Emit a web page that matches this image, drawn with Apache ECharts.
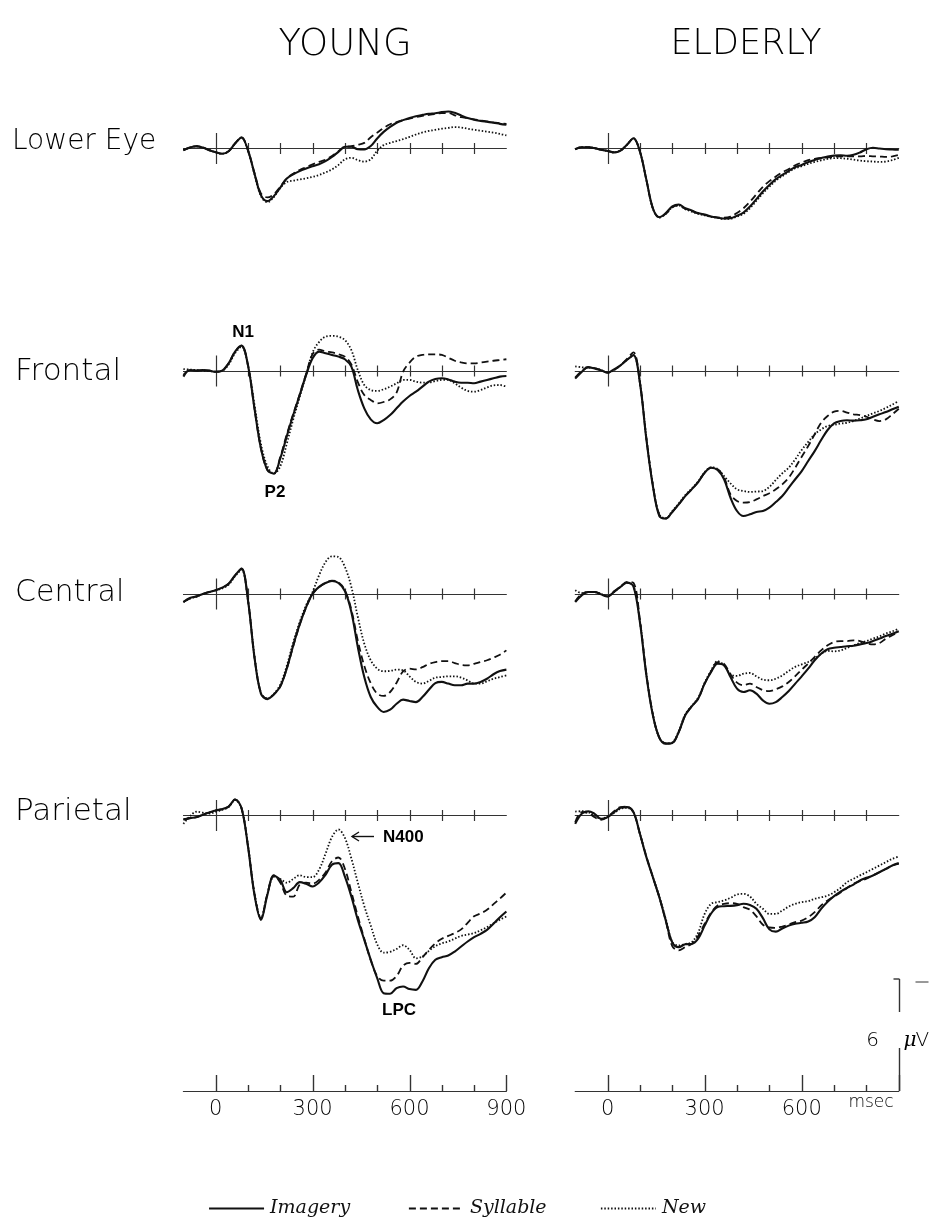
<!DOCTYPE html>
<html>
<head>
<meta charset="utf-8">
<title>ERP waveforms: young vs elderly</title>
<script src="https://cdn.jsdelivr.net/npm/echarts@6/dist/echarts.min.js"></script>
<style>
  html, body { margin: 0; padding: 0; background: #ffffff; }
  #chart { width: 931px; height: 1220px; }
</style>
</head>
<body>
<div id="chart"></div>
<script>
// ---- Sampling times (ms after stimulus onset) ----
const timesMs = [-100, -80, -60, -40, -20, 0, 20, 40, 60, 80, 100, 120, 140, 160, 180, 200, 220, 240, 260, 280,
  300, 320, 340, 360, 380, 400, 420, 440, 460, 480, 500, 520, 540, 560, 580, 600, 620, 640, 660, 680,
  700, 720, 740, 760, 780, 800, 820, 840, 860, 880, 900];

// ---- Amplitudes in microvolts (negative plotted upward) ----
const youngEyeImagery = [0.09, -0.05, -0.12, -0.05, 0.09, 0.2, 0.28, 0.15, -0.27, -0.59,
  0.1, 1.34, 2.5, 2.82, 2.55, 2.09, 1.61, 1.38, 1.21, 1.07,
  0.95, 0.84, 0.68, 0.45, 0.18, -0.09, -0.09, 0.04, 0.05, -0.13,
  -0.54, -0.89, -1.16, -1.38, -1.52, -1.64, -1.73, -1.8, -1.86, -1.89,
  -1.95, -1.98, -1.91, -1.77, -1.63, -1.54, -1.48, -1.43, -1.38, -1.32, -1.27];
const youngEyeSyllable = [0.09, -0.05, -0.12, -0.05, 0.09, 0.2, 0.28, 0.15, -0.27, -0.59,
  0.1, 1.3, 2.4, 2.62, 2.45, 2.05, 1.6, 1.35, 1.15, 1.0,
  0.85, 0.72, 0.6, 0.4, 0.15, -0.08, -0.12, -0.2, -0.3, -0.6,
  -0.85, -1.1, -1.3, -1.42, -1.52, -1.6, -1.68, -1.75, -1.8, -1.85,
  -1.9, -1.9, -1.78, -1.68, -1.62, -1.56, -1.5, -1.45, -1.4, -1.36, -1.32];
const youngEyeNew = [0.09, -0.05, -0.12, -0.05, 0.09, 0.2, 0.28, 0.15, -0.27, -0.59,
  0.12, 1.38, 2.55, 2.88, 2.6, 2.1, 1.8, 1.72, 1.66, 1.6,
  1.52, 1.42, 1.28, 1.12, 0.88, 0.58, 0.5, 0.62, 0.7, 0.58,
  0.12, -0.18, -0.3, -0.4, -0.5, -0.62, -0.75, -0.86, -0.94, -1.0,
  -1.06, -1.1, -1.15, -1.12, -1.06, -1.0, -0.95, -0.9, -0.85, -0.78, -0.7];

const elderlyEyeImagery = [0.04, -0.07, -0.07, -0.02, 0.07, 0.13, 0.21, 0.11, -0.2, -0.55,
  0.16, 1.68, 3.2, 3.68, 3.46, 3.1, 3.0, 3.2, 3.32, 3.46,
  3.54, 3.64, 3.7, 3.75, 3.73, 3.6, 3.43, 3.11, 2.71, 2.3,
  1.95, 1.64, 1.41, 1.2, 1.0, 0.88, 0.73, 0.61, 0.52, 0.43,
  0.38, 0.36, 0.39, 0.34, 0.21, 0.04, -0.04, 0.0, 0.04, 0.05, 0.07];
const elderlyEyeSyllable = [0.04, -0.07, -0.07, -0.02, 0.07, 0.13, 0.21, 0.11, -0.2, -0.55,
  0.16, 1.68, 3.2, 3.68, 3.5, 3.15, 3.05, 3.22, 3.35, 3.48,
  3.56, 3.64, 3.7, 3.7, 3.65, 3.45, 3.2, 2.85, 2.45, 2.05,
  1.75, 1.5, 1.28, 1.1, 0.9, 0.75, 0.62, 0.55, 0.5, 0.48,
  0.45, 0.42, 0.42, 0.42, 0.42, 0.4, 0.42, 0.43, 0.45, 0.42, 0.35];
const elderlyEyeNew = [0.04, -0.07, -0.07, -0.02, 0.07, 0.13, 0.21, 0.11, -0.2, -0.55,
  0.16, 1.68, 3.22, 3.7, 3.5, 3.15, 3.05, 3.25, 3.38, 3.5,
  3.58, 3.66, 3.72, 3.77, 3.76, 3.65, 3.5, 3.2, 2.8, 2.4,
  2.05, 1.72, 1.48, 1.26, 1.06, 0.95, 0.82, 0.72, 0.63, 0.56,
  0.52, 0.52, 0.55, 0.6, 0.65, 0.68, 0.7, 0.72, 0.7, 0.62, 0.5];

const youngFrontalImagery = [0.3, -0.05, -0.02, -0.05, -0.02, 0.04, -0.02, -0.41, -1.04, -1.36,
  -0.3, 2.0, 4.14, 5.3, 5.5, 4.68, 3.5, 2.36, 1.29, 0.21,
  -0.68, -1.04, -0.95, -0.86, -0.77, -0.63, -0.23, 1.02, 2.0, 2.59,
  2.8, 2.63, 2.36, 2.0, 1.64, 1.34, 1.11, 0.84, 0.57, 0.43,
  0.39, 0.45, 0.57, 0.63, 0.63, 0.66, 0.57, 0.48, 0.39, 0.3, 0.27];
const youngFrontalSyllable = [0.2, -0.05, -0.02, -0.05, -0.02, 0.04, -0.02, -0.41, -1.04, -1.36,
  -0.3, 2.0, 4.14, 5.3, 5.5, 4.6, 3.4, 2.3, 1.25, 0.15,
  -0.9, -1.15, -1.05, -1.0, -0.9, -0.77, -0.35, 0.6, 1.29, 1.55,
  1.73, 1.66, 1.52, 1.16, 0.04, -0.45, -0.77, -0.86, -0.89, -0.89,
  -0.86, -0.71, -0.55, -0.46, -0.41, -0.41, -0.45, -0.5, -0.55, -0.59, -0.63];
const youngFrontalNew = [-0.1, -0.08, -0.05, -0.02, 0.0, 0.04, 0.0, -0.35, -0.95, -1.3,
  -0.3, 1.8, 3.9, 5.1, 5.5, 5.1, 3.9, 2.6, 1.4, 0.2,
  -1.0, -1.55, -1.84, -1.88, -1.84, -1.66, -1.12, -0.05, 0.75, 1.02,
  1.07, 0.98, 0.84, 0.66, 0.48, 0.48, 0.57, 0.62, 0.62, 0.54,
  0.48, 0.48, 0.66, 0.89, 1.07, 1.11, 1.02, 0.88, 0.77, 0.75, 0.84];

const elderlyFrontalImagery = [0.41, 0.05, -0.21, -0.13, -0.04, 0.09, -0.09, -0.3, -0.59, -0.85,
  0.63, 3.66, 6.16, 7.77, 7.9, 7.55, 7.14, 6.7, 6.34, 5.95,
  5.45, 5.18, 5.3, 5.8, 6.79, 7.5, 7.77, 7.68, 7.55, 7.5,
  7.32, 7.02, 6.7, 6.25, 5.8, 5.36, 4.82, 4.29, 3.7, 3.16,
  2.8, 2.68, 2.64, 2.66, 2.64, 2.59, 2.45, 2.32, 2.2, 2.05, 1.91];
const elderlyFrontalSyllable = [0.35, 0.0, -0.2, -0.15, -0.05, 0.09, -0.05, -0.3, -0.65, -1.0,
  0.6, 3.6, 6.1, 7.7, 7.9, 7.55, 7.14, 6.7, 6.34, 5.95,
  5.45, 5.18, 5.25, 5.7, 6.61, 6.96, 7.05, 7.02, 6.88, 6.7,
  6.55, 6.34, 6.07, 5.71, 5.18, 4.59, 4.02, 3.39, 2.77, 2.41,
  2.18, 2.14, 2.23, 2.32, 2.36, 2.45, 2.59, 2.68, 2.59, 2.32, 2.02];
const elderlyFrontalNew = [-0.25, -0.2, -0.18, -0.15, -0.05, 0.09, -0.05, -0.3, -0.6, -0.85,
  0.63, 3.6, 6.1, 7.7, 7.9, 7.5, 7.1, 6.65, 6.3, 5.92,
  5.42, 5.16, 5.25, 5.63, 6.02, 6.34, 6.43, 6.48, 6.46, 6.43,
  6.21, 5.84, 5.48, 5.18, 4.73, 4.23, 3.8, 3.39, 3.13, 2.95,
  2.88, 2.82, 2.77, 2.68, 2.55, 2.41, 2.27, 2.14, 1.98, 1.8, 1.61];

const youngCentralImagery = [0.43, 0.21, 0.13, 0.0, -0.11, -0.2, -0.34, -0.55, -1.0, -1.36,
  0.34, 3.39, 5.34, 5.63, 5.38, 4.95, 4.0, 2.75, 1.63, 0.7,
  -0.02, -0.38, -0.59, -0.7, -0.59, -0.16, 0.96, 2.84, 4.45, 5.52,
  6.05, 6.32, 6.2, 5.88, 5.66, 5.73, 5.79, 5.52, 5.13, 4.77,
  4.71, 4.8, 4.89, 4.89, 4.8, 4.8, 4.71, 4.54, 4.3, 4.13, 4.05];
const youngCentralSyllable = [0.43, 0.25, 0.13, 0.0, -0.11, -0.2, -0.34, -0.55, -1.0, -1.36,
  0.34, 3.39, 5.3, 5.6, 5.38, 4.95, 4.0, 2.8, 1.65, 0.72,
  0.0, -0.36, -0.6, -0.72, -0.62, -0.2, 0.85, 2.5, 3.85, 4.78,
  5.34, 5.46, 5.25, 4.75, 4.15, 4.0, 4.04, 3.92, 3.75, 3.65,
  3.6, 3.6, 3.7, 3.8, 3.82, 3.74, 3.64, 3.55, 3.41, 3.25, 3.02];
const youngCentralNew = [0.43, 0.25, 0.15, 0.0, -0.1, -0.2, -0.3, -0.5, -0.95, -1.3,
  0.34, 3.3, 5.3, 5.6, 5.35, 4.85, 3.85, 2.6, 1.5, 0.6,
  -0.11, -1.0, -1.71, -2.02, -1.98, -1.45, -0.38, 1.23, 2.66, 3.55,
  4.0, 4.14, 4.12, 4.05, 4.09, 4.41, 4.71, 4.8, 4.66, 4.48,
  4.45, 4.41, 4.41, 4.48, 4.63, 4.8, 4.8, 4.68, 4.54, 4.45, 4.36];

const elderlyCentralImagery = [0.43, 0.07, -0.11, -0.11, 0.02, 0.13, -0.11, -0.38, -0.61, -0.41,
  1.5, 4.36, 6.5, 7.7, 8.02, 7.98, 7.39, 6.5, 6.02, 5.61,
  4.8, 4.18, 3.73, 3.82, 4.45, 5.07, 5.25, 5.16, 5.34, 5.7,
  5.88, 5.79, 5.52, 5.2, 4.8, 4.41, 4.0, 3.55, 3.2, 2.96,
  2.88, 2.84, 2.8, 2.77, 2.7, 2.63, 2.52, 2.39, 2.25, 2.13, 2.0];
const elderlyCentralSyllable = [0.4, 0.0, -0.1, -0.1, 0.0, 0.13, -0.15, -0.4, -0.65, -0.6,
  1.4, 4.3, 6.45, 7.7, 8.0, 7.98, 7.39, 6.5, 6.02, 5.61,
  4.8, 4.15, 3.65, 3.75, 4.3, 4.75, 4.89, 4.8, 4.98, 5.15,
  5.2, 5.1, 4.95, 4.71, 4.4, 4.05, 3.73, 3.37, 3.02, 2.75,
  2.57, 2.52, 2.52, 2.48, 2.52, 2.63, 2.7, 2.63, 2.39, 2.21, 2.04];
const elderlyCentralNew = [-0.2, -0.05, -0.1, -0.1, 0.0, 0.13, -0.1, -0.38, -0.6, -0.45,
  1.45, 4.3, 6.45, 7.7, 8.0, 7.95, 7.35, 6.45, 6.0, 5.55,
  4.75, 4.1, 3.6, 3.82, 4.3, 4.39, 4.27, 4.23, 4.41, 4.59,
  4.62, 4.54, 4.36, 4.12, 3.9, 3.77, 3.64, 3.46, 3.2, 3.05,
  3.07, 3.02, 2.89, 2.75, 2.63, 2.52, 2.39, 2.27, 2.12, 2.0, 1.86];

const youngParietalImagery = [0.23, 0.14, 0.09, -0.04, -0.16, -0.27, -0.34, -0.48, -0.86, -0.39,
  1.66, 4.25, 5.59, 4.25, 3.23, 3.45, 4.11, 3.89, 3.57, 3.66,
  3.8, 3.59, 3.18, 2.64, 2.55, 3.27, 4.34, 5.59, 6.66, 7.73,
  8.71, 9.52, 9.55, 9.25, 9.16, 9.3, 9.34, 8.89, 8.18, 7.73,
  7.59, 7.5, 7.29, 7.02, 6.75, 6.52, 6.34, 6.13, 5.8, 5.45, 5.14];
const youngParietalSyllable = [0.2, 0.14, 0.09, -0.04, -0.16, -0.27, -0.34, -0.48, -0.86, -0.39,
  1.66, 4.2, 5.5, 4.2, 3.2, 3.6, 4.3, 4.35, 3.7, 3.6,
  3.65, 3.45, 3.05, 2.45, 2.25, 2.85, 4.1, 5.4, 6.6, 7.75,
  8.6, 8.85, 8.85, 8.6, 8.05, 7.9, 7.95, 7.6, 7.2, 6.85,
  6.6, 6.45, 6.3, 6.1, 5.75, 5.4, 5.25, 5.05, 4.75, 4.45, 4.13];
const youngParietalNew = [0.45, 0.05, -0.2, -0.15, -0.1, -0.2, -0.3, -0.45, -0.84, -0.39,
  1.6, 4.15, 5.5, 4.2, 3.3, 3.4, 3.6, 3.4, 3.2, 3.3,
  3.3, 2.9, 2.05, 1.15, 0.75, 1.2, 2.3, 3.6, 4.85, 5.9,
  6.9, 7.35, 7.3, 7.15, 6.95, 7.2, 7.65, 7.55, 7.25, 7.0,
  6.85, 6.75, 6.6, 6.45, 6.38, 6.3, 6.15, 5.98, 5.78, 5.58, 5.41];

const elderlyParietalImagery = [0.45, -0.09, -0.23, -0.09, 0.18, 0.09, -0.18, -0.41, -0.45, -0.18,
  0.98, 2.23, 3.3, 4.38, 5.63, 6.8, 7.05, 6.9, 6.88, 6.6,
  5.9, 5.25, 4.9, 4.86, 4.84, 4.8, 4.73, 4.8, 5.0, 5.5,
  6.1, 6.22, 6.05, 5.9, 5.8, 5.75, 5.68, 5.45, 5.0, 4.62,
  4.32, 4.08, 3.88, 3.7, 3.48, 3.34, 3.21, 3.04, 2.86, 2.68, 2.55];
const elderlyParietalSyllable = [0.36, -0.18, -0.13, 0.09, 0.23, 0.09, -0.23, -0.45, -0.48, -0.18,
  0.98, 2.2, 3.3, 4.38, 5.65, 7.0, 7.23, 7.05, 6.88, 6.45,
  5.8, 5.2, 4.82, 4.73, 4.7, 4.73, 4.91, 5.05, 5.4, 5.85,
  6.0, 6.02, 5.95, 5.84, 5.71, 5.63, 5.45, 5.18, 4.82, 4.55,
  4.34, 4.13, 3.88, 3.66, 3.52, 3.39, 3.21, 3.04, 2.86, 2.68, 2.59];
const elderlyParietalNew = [-0.21, -0.23, -0.18, 0.0, 0.18, 0.05, -0.13, -0.36, -0.41, -0.18,
  0.98, 2.23, 3.3, 4.35, 5.55, 6.78, 6.96, 6.88, 6.79, 6.27,
  5.27, 4.73, 4.64, 4.55, 4.41, 4.23, 4.2, 4.34, 4.73, 5.0,
  5.27, 5.27, 5.09, 4.88, 4.73, 4.64, 4.59, 4.46, 4.38, 4.29,
  4.11, 3.88, 3.57, 3.39, 3.21, 3.04, 2.86, 2.68, 2.5, 2.32, 2.2];

// ---- Labels ----
const groupTitles = ['YOUNG', 'ELDERLY'];
const siteNames = ['Lower Eye', 'Frontal', 'Central', 'Parietal'];
const conditionNames = ['Imagery', 'Syllable', 'New'];
const baselineTicksMs = [0, 100, 200, 300, 400, 500, 600, 700, 800];
const timeAxisTicksMs = [0, 100, 200, 300, 400, 500, 600, 700, 800, 900];
const majorTicksMs = [0, 300, 600, 900];
const youngTimeLabels = [0, 300, 600, 900];
const elderlyTimeLabels = [0, 300, 600];
const calibrationUv = 6;

// waveform table: [site][group] -> [Imagery, Syllable, New]
const waves = [
  [[youngEyeImagery, youngEyeSyllable, youngEyeNew], [elderlyEyeImagery, elderlyEyeSyllable, elderlyEyeNew]],
  [[youngFrontalImagery, youngFrontalSyllable, youngFrontalNew], [elderlyFrontalImagery, elderlyFrontalSyllable, elderlyFrontalNew]],
  [[youngCentralImagery, youngCentralSyllable, youngCentralNew], [elderlyCentralImagery, elderlyCentralSyllable, elderlyCentralNew]],
  [[youngParietalImagery, youngParietalSyllable, youngParietalNew], [elderlyParietalImagery, elderlyParietalSyllable, elderlyParietalNew]]
];

// ---- Layout (pixels) ----
const INK = '#111111';
const AXIS_INK = '#333333';
const colLeft = [183.4, 575.2];
const colWidth = [323, 323.6];
const rowBaseline = [148.5, 371, 594, 815.5];
const timeAxisBaseline = 1091;
const pxPerUv = 112 / calibrationUv;
const panelUvMin = -4, panelUvMax = 10;
const axisUvMin = -7, axisUvMax = 0;

const lineLook = {
  Imagery: { width: 2.1, type: 'solid' },
  Syllable: { width: 1.8, type: [7, 4] },
  New: { width: 1.8, type: [1.5, 1.9] }
};

const grid = [], xAxis = [], yAxis = [], series = [];

function addGrid(left, width, baseline, uvMin, uvMax) {
  grid.push({
    left: left, width: width,
    top: baseline + uvMin * pxPerUv,
    height: (uvMax - uvMin) * pxPerUv,
    containLabel: false
  });
  return grid.length - 1;
}

function baselineTickSeries(gi) {
  return {
    type: 'custom', xAxisIndex: gi, yAxisIndex: gi, silent: true, z: 1,
    data: baselineTicksMs.map(t => [t, 0]),
    encode: { x: 0, y: 1 },
    renderItem: function (params, api) {
      const t = api.value(0);
      const p = api.coord([t, 0]);
      const h = t === 0 ? 15.5 : 5.5;
      return {
        type: 'line',
        shape: { x1: Math.round(p[0]) + 0.5, y1: p[1] - h, x2: Math.round(p[0]) + 0.5, y2: p[1] + h },
        style: { stroke: AXIS_INK, lineWidth: 1.2 }
      };
    }
  };
}

// waveform panels
for (let r = 0; r < 4; r++) {
  for (let c = 0; c < 2; c++) {
    const gi = addGrid(colLeft[c], colWidth[c], rowBaseline[r], panelUvMin, panelUvMax);
    xAxis.push({
      gridIndex: gi, type: 'value', min: -100, max: 900, interval: 100,
      axisLine: { show: true, onZero: true, lineStyle: { color: AXIS_INK, width: 1 } },
      axisTick: { show: false }, axisLabel: { show: false }, splitLine: { show: false }
    });
    yAxis.push({ gridIndex: gi, type: 'value', min: panelUvMin, max: panelUvMax, inverse: true, show: false });
    series.push(baselineTickSeries(gi));
    conditionNames.forEach((name, k) => {
      const values = waves[r][c][k];
      series.push({
        type: 'line', name: name, xAxisIndex: gi, yAxisIndex: gi,
        data: timesMs.map((t, j) => [t, values[j]]),
        symbol: 'none', showSymbol: false, smooth: 0.35, silent: true,
        z: 3 - k,
        lineStyle: { color: INK, width: lineLook[name].width, type: lineLook[name].type, cap: 'butt' }
      });
    });
  }
}

// time axes under each column
for (let c = 0; c < 2; c++) {
  const gi = addGrid(colLeft[c], colWidth[c], timeAxisBaseline, axisUvMin, axisUvMax);
  const shown = c === 0 ? youngTimeLabels : elderlyTimeLabels;
  xAxis.push({
    gridIndex: gi, type: 'value', min: -100, max: 900, interval: 100,
    axisLine: { show: true, onZero: true, lineStyle: { color: AXIS_INK, width: 1.2 } },
    axisTick: { show: false }, splitLine: { show: false },
    axisLabel: {
      show: true, margin: 8, showMinLabel: true, showMaxLabel: true,
      fontFamily: 'DejaVu Sans', fontSize: 21, fontWeight: 200, color: '#000',
      formatter: v => (shown.indexOf(v) >= 0 ? String(v) : '')
    }
  });
  yAxis.push({ gridIndex: gi, type: 'value', min: axisUvMin, max: axisUvMax, inverse: true, show: false });
  series.push({
    type: 'custom', xAxisIndex: gi, yAxisIndex: gi, silent: true,
    data: timeAxisTicksMs.map(t => [t, 0]),
    encode: { x: 0, y: 1 },
    renderItem: function (params, api) {
      const t = api.value(0);
      const p = api.coord([t, 0]);
      const h = majorTicksMs.indexOf(t) >= 0 ? 16 : 6;
      const x = Math.round(p[0]) + 0.5;
      return { type: 'line', shape: { x1: x, y1: p[1], x2: x, y2: p[1] - h }, style: { stroke: AXIS_INK, lineWidth: 1.4 } };
    }
  });
  if (c === 1) {
    // calibration bar standing on the 900 ms end of the elderly time axis
    series.push({
      type: 'custom', xAxisIndex: gi, yAxisIndex: gi, silent: true, z: 5,
      data: [[900, calibrationUv]],
      encode: { x: 0, y: 1 },
      renderItem: function (params, api) {
        const t = api.value(0), amp = api.value(1);
        const p0 = api.coord([t, 0]);
        const pTop = api.coord([t, -amp]);
        const x = Math.round(p0[0]) + 0.5;
        const midY = (p0[1] + pTop[1]) / 2;
        const gapTop = midY - 23, gapBottom = midY + 13;
        const stroke = { stroke: AXIS_INK, lineWidth: 1.4 };
        return {
          type: 'group',
          children: [
            { type: 'line', shape: { x1: x, y1: p0[1], x2: x, y2: gapBottom }, style: stroke },
            { type: 'line', shape: { x1: x, y1: gapTop, x2: x, y2: pTop[1] }, style: stroke },
            { type: 'line', shape: { x1: x - 6, y1: pTop[1], x2: x, y2: pTop[1] }, style: stroke },
            { type: 'line', shape: { x1: x + 16, y1: pTop[1] + 3, x2: x + 29, y2: pTop[1] + 3 }, style: { stroke: AXIS_INK, lineWidth: 1 } },
            { type: 'text', style: { x: x - 27, y: midY + 6, text: String(amp), fill: '#000', fontFamily: 'DejaVu Sans', fontWeight: 200, fontSize: 20, align: 'center', verticalAlign: 'middle' } },
            { type: 'text', style: { x: x + 4, y: midY + 6, text: 'μ', fill: '#000', fontFamily: 'DejaVu Serif', fontStyle: 'italic', fontSize: 20, align: 'left', verticalAlign: 'middle' } },
            { type: 'text', style: { x: x + 16, y: midY + 6, text: 'V', fill: '#000', fontFamily: 'DejaVu Sans', fontWeight: 200, fontSize: 20, align: 'left', verticalAlign: 'middle' } }
          ]
        };
      }
    });
  }
}

// free text: titles, site names, component labels
function txt(text, x, y, size, opts) {
  opts = opts || {};
  const align = opts.align || 'center';
  return {
    type: 'text', x: x, y: y, silent: true,
    style: {
      text: text, fill: '#000',
      fontFamily: opts.family || 'DejaVu Sans',
      fontWeight: opts.weight || 200,
      fontStyle: opts.style || 'normal',
      fontSize: size,
      align: align, verticalAlign: 'middle',
      textAlign: align, textVerticalAlign: 'middle'
    }
  };
}

const graphic = [
  txt(groupTitles[0], 345, 45, 37),
  txt(groupTitles[1], 746, 45, 35),
  txt(siteNames[0], 12, 142, 28, { align: 'left' }),
  txt(siteNames[1], 15, 372, 31, { align: 'left' }),
  txt(siteNames[2], 15, 593, 30, { align: 'left' }),
  txt(siteNames[3], 15, 812, 31, { align: 'left' }),
  txt('N1', 243, 332, 17, { family: 'Liberation Sans', weight: 'bold' }),
  txt('P2', 275, 492, 17, { family: 'Liberation Sans', weight: 'bold' }),
  txt('N400', 383, 837, 17, { family: 'Liberation Sans', weight: 'bold', align: 'left' }),
  txt('LPC', 399, 1010, 17, { family: 'Liberation Sans', weight: 'bold' }),
  txt('msec', 871, 1103, 17),
  // arrow pointing at the N400 peak
  { type: 'line', silent: true, shape: { x1: 352, y1: 836.5, x2: 374, y2: 836.5 }, style: { stroke: INK, lineWidth: 1.4 } },
  { type: 'polyline', silent: true, shape: { points: [[359, 832], [352, 836.5], [359, 841]] }, style: { stroke: INK, lineWidth: 1.4, fill: null } }
];

// legend: one block per condition so each sits at its own spot
const legendLeft = [208, 408, 600];
const legend = conditionNames.map((name, k) => ({
  data: [name], left: legendLeft[k], top: 1199, orient: 'horizontal', padding: 0,
  itemWidth: 55, itemHeight: 14, selectedMode: false,
  itemStyle: { opacity: 0, borderWidth: 0 },
  lineStyle: { color: INK, width: lineLook[name].width, type: lineLook[name].type, opacity: 1 },
  textStyle: { fontFamily: 'DejaVu Serif', fontStyle: 'italic', fontSize: 19, color: INK, padding: [0, 0, 0, 1] }
}));

const chart = echarts.init(document.getElementById('chart'), null, { renderer: 'canvas' });
chart.setOption({
  backgroundColor: '#ffffff',
  animation: false,
  grid: grid, xAxis: xAxis, yAxis: yAxis,
  series: series,
  legend: legend,
  graphic: graphic
});
</script>
</body>
</html>
